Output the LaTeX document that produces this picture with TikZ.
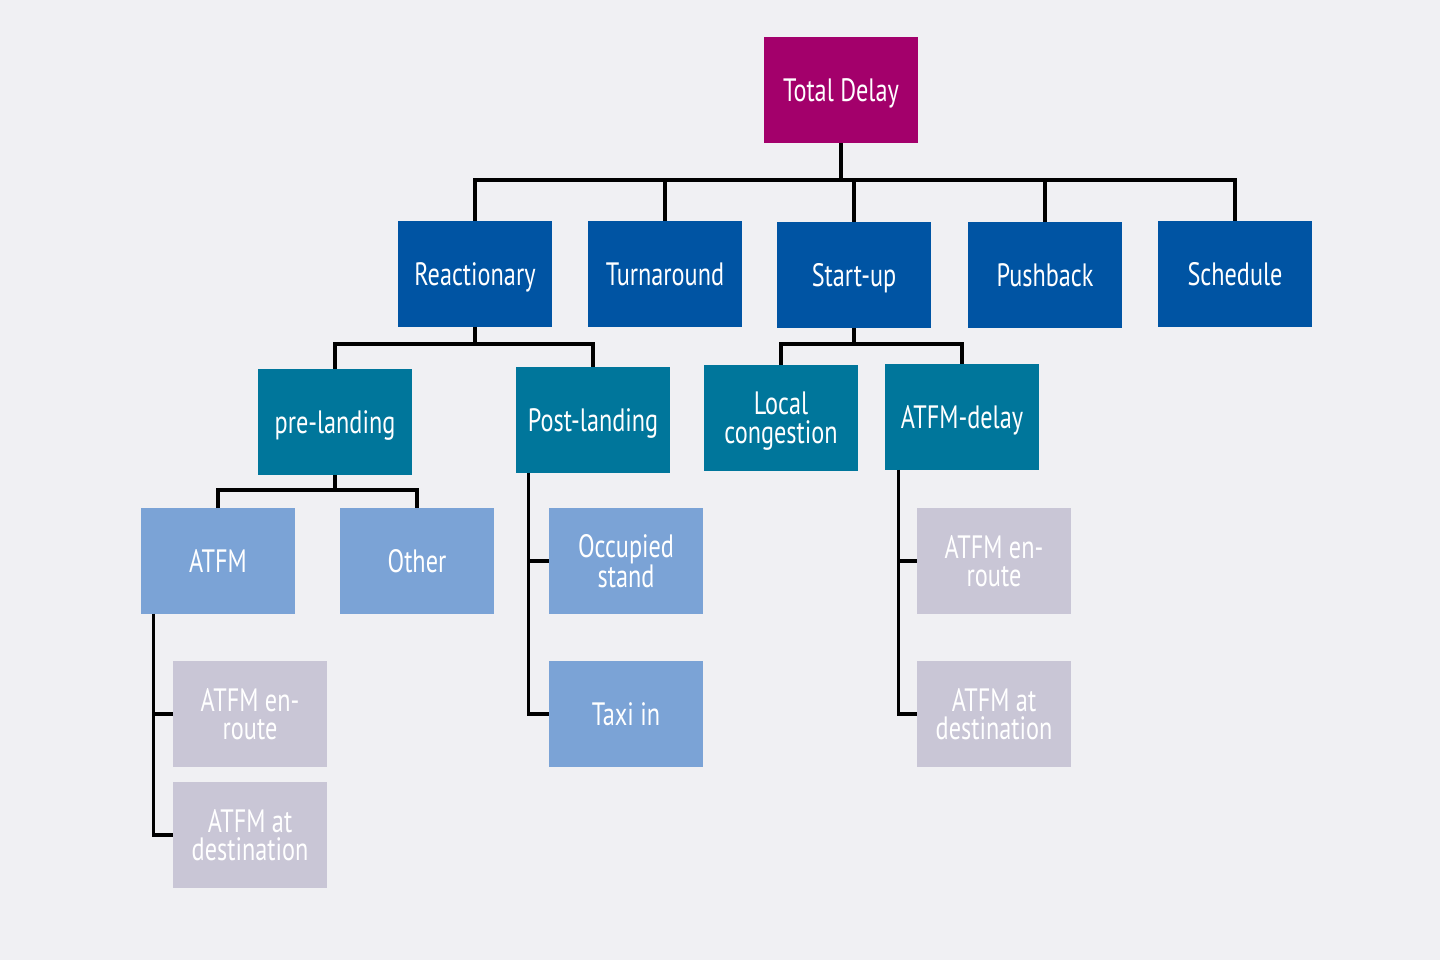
\documentclass[tikz,border=0pt]{standalone}
\usepackage{fontspec}
\setmainfont[FakeStretch=0.75]{PT Sans}
\usetikzlibrary{calc}
\definecolor{bgcol}{HTML}{F0F0F3}
\definecolor{totalcol}{HTML}{A3006B}
\definecolor{lvlone}{HTML}{0054A3}
\definecolor{lvltwo}{HTML}{00769B}
\definecolor{lvlthree}{HTML}{7BA3D6}
\definecolor{lvlgrey}{HTML}{C9C6D6}

\begin{document}
\begin{tikzpicture}[x=0.025cm,y=-0.025cm,
    box/.style={minimum width=3.85cm,minimum height=2.63cm,inner sep=0pt,
        align=center,text=white,text depth=0pt,font=\fontsize{23}{20.5}\selectfont},
    totalbox/.style={box,fill=totalcol},
    onebox/.style={box,fill=lvlone},
    twobox/.style={box,fill=lvltwo},
    threebox/.style={box,fill=lvlthree},
    greybox/.style={box,fill=lvlgrey},
    link/.style={draw=black,line width=2.2pt}]
            \fill[bgcol] (0,0) rectangle (1440,960);
            \useasboundingbox (0,0) rectangle (1440,960);
            % top
            \node[totalbox] (total) at (841,90) {Total Delay};
            % first level
            \node[onebox] (reac) at (475,274) {Reactionary};
            \node[onebox] (turn) at (665,274) {Turnaround};
            \node[onebox] (start) at (854,275) {Start-up};
            \node[onebox] (push) at (1045,275) {Pushback};
            \node[onebox] (sched) at (1235,274) {Schedule};
            % second level
            \node[twobox] (pre) at (335,422) {pre-landing};
            \node[twobox] (post) at (593,420) {Post-landing};
            \node[twobox] (local) at (781,418) {Local\\congestion};
            \node[twobox] (atfmd) at (962,417) {ATFM-delay};
            % third level
            \node[threebox] (atfm) at (218,561) {ATFM};
            \node[threebox] (other) at (417,561) {Other};
            \node[threebox] (occ) at (626,561) {Occupied\\stand};
            \node[threebox] (taxi) at (626,714) {Taxi in};
            \node[greybox] (enrl) at (250,714) {ATFM en-\\route};
            \node[greybox] (destl) at (250,835) {ATFM at\\destination};
            \node[greybox] (enrr) at (994,561) {ATFM en-\\route};
            \node[greybox] (destr) at (994,714) {ATFM at\\destination};
            % links
            \coordinate (busa) at (841,180);
            \draw[link] (total.south) -- (busa);
            \draw[link] (reac.north) -- (reac.north |- busa) -- (sched.north |- busa) -- (sched.north);
            \draw[link] (turn.north) -- (turn.north |- busa);
            \draw[link] (start.north) -- (start.north |- busa);
            \draw[link] (push.north) -- (push.north |- busa);
            \coordinate (busb) at (475,344);
            \draw[link] (reac.south) -- (busb);
            \draw[link] (pre.north) -- (pre.north |- busb) -- (post.north |- busb) -- (post.north);
            \coordinate (busc) at (854,344);
            \draw[link] (start.south) -- (busc);
            \draw[link] (local.north) -- (local.north |- busc) -- (atfmd.north |- busc) -- (atfmd.north);
            \coordinate (busd) at (335,490);
            \draw[link] (pre.south) -- (busd);
            \draw[link] (atfm.north) -- (atfm.north |- busd) -- (other.north |- busd) -- (other.north);
            % side brackets
            \draw[link] ($(atfm.south west)+(13,0)$) |- (destl.west);
            \draw[link] ($(atfm.south west)+(13,0)$) |- (enrl.west);
            \draw[link] ($(post.south west)+(13,0)$) |- (taxi.west);
            \draw[link] ($(post.south west)+(13,0)$) |- (occ.west);
            \draw[link] ($(atfmd.south west)+(14,0)$) |- (destr.west);
            \draw[link] ($(atfmd.south west)+(14,0)$) |- (enrr.west);
        \end{tikzpicture}
\end{document}
